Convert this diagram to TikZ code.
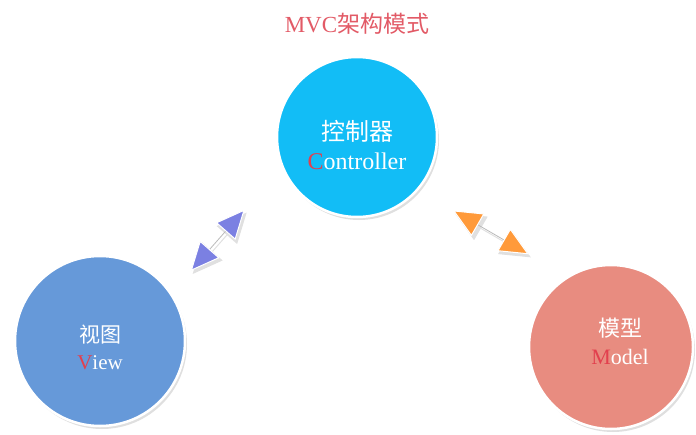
\documentclass[tikz,border=0pt]{standalone}
\usepackage{fontspec}
\setmainfont{Liberation Serif}
\newfontfamily\cjk{Noto Sans CJK SC}
\usetikzlibrary{arrows.meta,shadows}
\definecolor{ctrlblue}{HTML}{12BDF6}
\definecolor{viewblue}{HTML}{6699D9}
\definecolor{modelred}{HTML}{E88C80}
\definecolor{titlered}{HTML}{E25A66}
\definecolor{letterred}{HTML}{E2404E}
\definecolor{arrowblue}{HTML}{7B80E2}
\definecolor{arroworange}{HTML}{FF9A3A}

\begin{document}
\begin{tikzpicture}[x=1pt, y=-1pt, line cap=round, line join=round,
    ball/.style={circle, draw=white, line width=2.5pt, minimum size=#1, inner sep=0pt,
        drop shadow={shadow xshift=2pt, shadow yshift=-3pt, opacity=0.25, fill=gray}},
    balltext/.style={text=white, align=center},
    twoway/.style={draw=gray!55, line width=0.8pt,
        {Triangle[length=29pt, width=26pt, color=white, fill=#1, line width=1pt]}-{Triangle[length=29pt, width=26pt, color=white, fill=#1, line width=1pt]}},
    twowayshade/.style={draw=black!12, line width=1pt, transform canvas={xshift=2pt, yshift=-3pt},
        {Triangle[length=30pt, width=27pt, color=black!12]}-{Triangle[length=30pt, width=27pt, color=black!12]}}]
                \useasboundingbox (0,0) rectangle (696,434);

                % Title
                \node[text=titlered, font=\fontsize{23}{27}\selectfont] (title) at (357,24)
                    {MVC{\cjk 架构模式}};

                % The three parts
                \node[ball=160pt, fill=ctrlblue] (ctrl) at (357,137) {};
                \node[ball=170pt, fill=viewblue] (view) at (100,341) {};
                \node[ball=164pt, fill=modelred] (model) at (611,347) {};

                % Texts in the circles
                \node[balltext, font=\fontsize{24}{29}\selectfont] (ctrltext) at ([yshift=-8pt]ctrl.center)
                    {{\cjk 控制器}\\\textcolor{letterred}{C}ontroller};
                \node[balltext, font=\fontsize{21}{27}\selectfont] (viewtext) at ([yshift=-6pt]view.center)
                    {{\cjk 视图}\\\textcolor{letterred}{V}iew};
                \node[balltext, font=\fontsize{22}{28}\selectfont] (modeltext) at ([xshift=9pt, yshift=6pt]model.center)
                    {{\cjk 模型}\\\textcolor{letterred}{M}odel};

                % Shades of the two-way arrows
                \draw[twowayshade, shorten <=29pt, shorten >=56pt] (view.34) -- (ctrl.202);
                \draw[twowayshade, shorten <=40pt, shorten >=44pt] (ctrl.319) -- (model.122);

                % Two-way arrows
                \draw[twoway=arrowblue, shorten <=29pt, shorten >=56pt] (view.34) -- (ctrl.202);
                \draw[twoway=arroworange, shorten <=40pt, shorten >=44pt] (ctrl.319) -- (model.122);

            \end{tikzpicture}
\end{document}
